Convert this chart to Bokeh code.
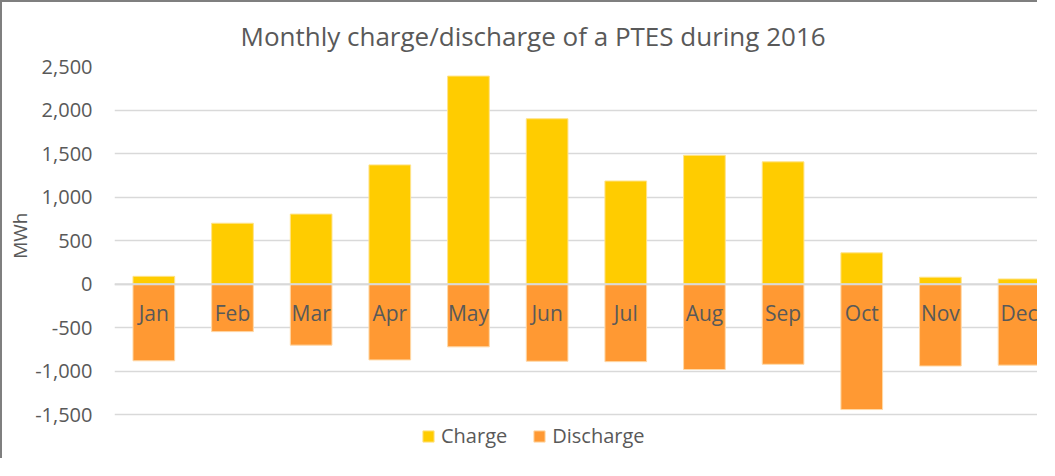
from bokeh.plotting import figure
from bokeh.models import (Range1d, NumeralTickFormatter, FixedTicker, Span, Title,
                          Legend, LegendItem, ColumnDataSource)
from bokeh.core.properties import value
from bokeh.embed import file_html
from bokeh.resources import INLINE

months = ["Jan", "Feb", "Mar", "Apr", "May", "Jun", "Jul", "Aug", "Sep", "Oct", "Nov", "Dec"]
charge = [90, 700, 805, 1370, 2390, 1900, 1185, 1480, 1405, 360, 80, 60]
discharge = [-880, -545, -700, -870, -720, -885, -890, -980, -920, -1440, -940, -930]
y_ticks = [-1500, -1000, -500, 0, 500, 1000, 1500, 2000, 2500]

FONT = "Open Sans"
TXT = "#595959"

idx = list(range(len(months)))
src = ColumnDataSource(dict(x=idx, m=months, c=charge, d=discharge, z=[0] * len(months)))

# frame extends below -1500 so the legend can sit inside it
p = figure(width=1037, height=458, output_backend="svg", toolbar_location=None,
           x_range=Range1d(-0.5, 11.26), y_range=Range1d(-2025, 2500),
           min_border_left=112, min_border_right=0, min_border_top=63, min_border_bottom=0)
p.styles = {"border-left": "2px solid #7f7f7f", "border-top": "2px solid #7f7f7f"}
p.outline_line_color = None
p.background_fill_color = "white"
p.border_fill_color = "white"

p.title.text = "Monthly charge/discharge of a PTES during 2016"
p.title.align = "left"
p.title.offset = 126
p.title.standoff = 26
p.title.text_font = FONT
p.title.text_font_size = "26px"
p.title.text_font_style = "normal"
p.title.text_color = TXT

p.xaxis.visible = False
p.xgrid.visible = False
p.ygrid.grid_line_color = "#d9d9d9"
p.ygrid.grid_line_width = 1.5

ya = p.yaxis[0]
ya.ticker = FixedTicker(ticks=y_ticks)
ya.formatter = NumeralTickFormatter(format="0,0")
ya.axis_line_color = None
ya.major_tick_line_color = None
ya.minor_tick_line_color = None
ya.major_tick_out = 0
ya.major_tick_in = 0
ya.major_label_standoff = 22
ya.major_label_text_font = FONT
ya.major_label_text_font_size = "20px"
ya.major_label_text_color = TXT

# y-axis title, placed against the upper (data) part of the frame
ytitle = Title(text="MWh", align="right", offset=146, standoff=0,
               text_font=FONT, text_font_size="19px", text_font_style="normal",
               text_color=TXT)
p.add_layout(ytitle, "left")

r1 = p.vbar(x="x", top="c", bottom=0, width=0.53, source=src,
            fill_color="#FFCC00", line_color="#FFE38A", line_width=1)
r2 = p.vbar(x="x", top=0, bottom="d", width=0.53, source=src,
            fill_color="#FF9933", line_color="#FFD9A8", line_width=1)

p.add_layout(Span(location=0, dimension="width", line_color="#d9d9d9", line_width=2))

p.text(x="x", y="z", text="m", source=src, y_offset=29,
       text_align="center", text_baseline="middle",
       text_font=value(FONT), text_font_size="21px", text_color=TXT)

legend = Legend(items=[LegendItem(label="Charge", renderers=[r1]),
                       LegendItem(label="Discharge", renderers=[r2])],
                orientation="horizontal", location=(307, 11),
                glyph_width=14, glyph_height=14, label_standoff=6, spacing=25,
                label_text_font=FONT, label_text_font_size="20px", label_text_color=TXT,
                label_height=20, padding=0, margin=0,
                border_line_color=None, background_fill_alpha=0)
p.add_layout(legend, "center")

open("out.html", "w").write(file_html(p, INLINE))
